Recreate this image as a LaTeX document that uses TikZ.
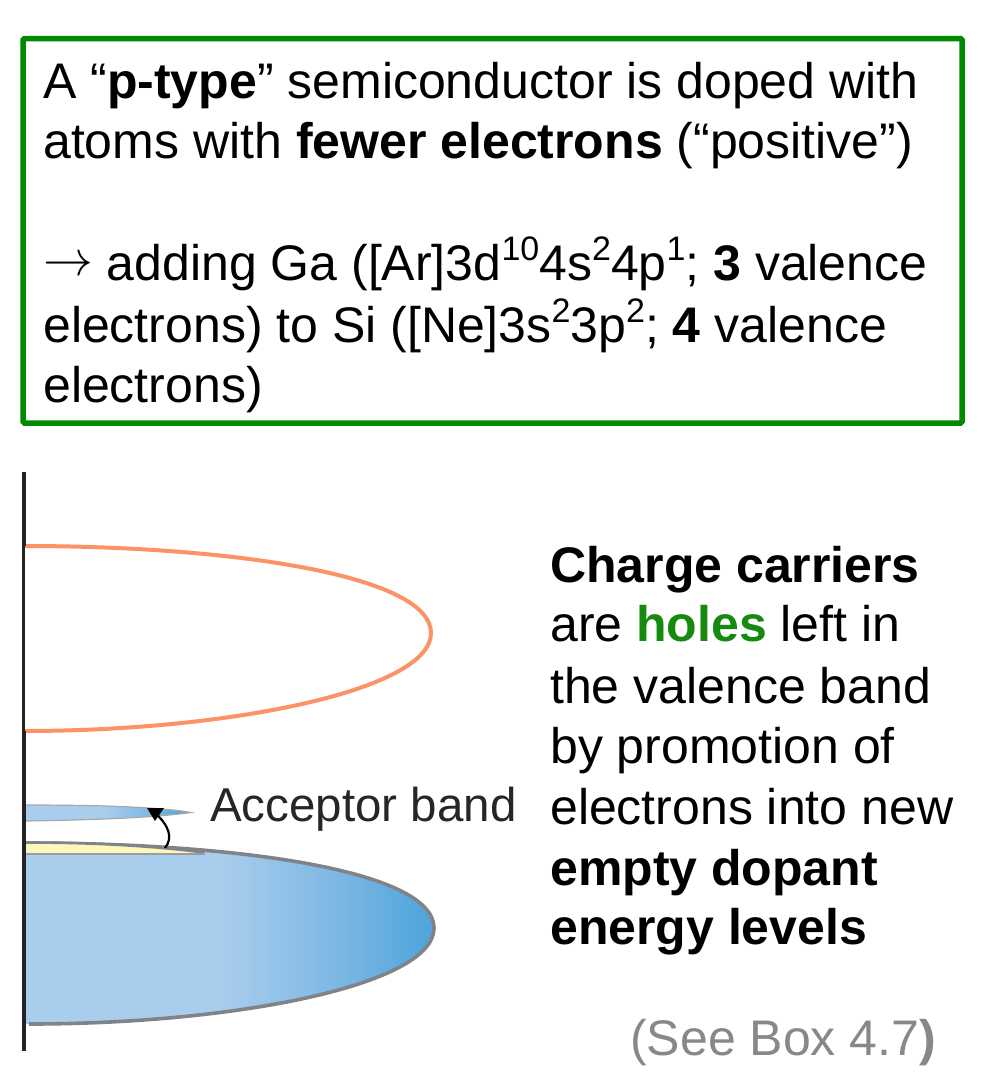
\documentclass[tikz,border=0pt]{standalone}
\usepackage{graphicx}
\usepackage{fontspec}
\setmainfont{Liberation Sans}
\definecolor{boxgreen}{HTML}{008A00}
\definecolor{holegreen}{HTML}{168A10}
\definecolor{orangeline}{HTML}{FB9268}
\definecolor{bandgray}{HTML}{808488}
\definecolor{axisdark}{HTML}{222222}
\definecolor{seegray}{HTML}{888888}
\definecolor{sliver}{HTML}{FFF6BC}
\definecolor{bandlight}{HTML}{A9CDEC}
\definecolor{bandmid}{HTML}{7DB8E4}
\definecolor{banddeep}{HTML}{4CA4DB}
\pgfdeclarehorizontalshading{bandshade}{100bp}{color(0bp)=(bandlight);color(25bp)=(bandlight);color(49bp)=(bandlight);color(63bp)=(bandmid);color(75bp)=(banddeep);color(100bp)=(banddeep)}
\newcommand{\sups}[1]{\raisebox{0.4em}{\fontsize{34}{34}\selectfont #1}}
\tikzset{
  x=1pt,y=-1pt,
  line/.style={anchor=base west,inner sep=0pt,font=\fontsize{50}{50}\selectfont},
  acceptor/.style={anchor=base west,inner sep=0pt,font=\fontsize{47.5}{47.5}\selectfont,text=black!85},
  seeref/.style={line,text=seegray},
  axisline/.style={draw=axisdark,line width=4pt},
  bandedge/.style={draw=bandgray,line width=3.6pt},
}
\begin{document}
\begin{tikzpicture}
\useasboundingbox (0,0) rectangle (1000,1084);
\fill[white] (0,0) rectangle (1000,1084);
\draw[boxgreen,line width=5.5pt,rounded corners=1.5pt] (23,38.5) rectangle (962,423);
\node[line] (t1) at (43,98) {A “\textbf{p-type}” semiconductor is doped with};
\node[line] (t2) at (43,158) {atoms with \textbf{fewer electrons} (“positive”)};
\node[line] (t3) at (43,280) {\raisebox{4.5pt}{\scalebox{2}{$\rightarrow$}} adding Ga ([Ar]3d\sups{10}4s\sups{2}4p\sups{1}; \textbf{3} valence};
\node[line] (t4) at (43,342) {electrons) to Si ([Ne]3s\sups{2}3p\sups{2}; \textbf{4} valence};
\node[line] (t5) at (43,402) {electrons)};
\node[line] (r1) at (550,582) {\textbf{Charge carriers}};
\node[line] (r2) at (550,641) {are \textbf{\textcolor{holegreen}{holes}} left in};
\node[line] (r3) at (550,703) {the valence band};
\node[line] (r4) at (550,763) {by promotion of};
\node[line] (r5) at (550,824) {electrons into new};
\node[line] (r6) at (550,885) {\textbf{empty dopant}};
\node[line] (r7) at (550,944) {\textbf{energy levels}};
\node[seeref] (see) at (630,1055) {(See Box 4.7\textbf{)}};
\node[acceptor] (acc) at (210,821) {Acceptor band};
% conduction band outline
\draw[orangeline,line width=4pt] (24,546) .. controls (230,546) and (431,575) .. (431,633) .. controls (431,690) and (230,731) .. (24,731);
% valence band
\shade[shading=bandshade] (26,843) .. controls (235,843) and (434,870) .. (434,928) .. controls (434,985) and (235,1024) .. (26,1024) -- cycle;
\draw[bandedge] (26,843) .. controls (235,843) and (434,870) .. (434,928) .. controls (434,985) and (235,1024) .. (29,1024);
% yellow sliver
\fill[sliver] (26,843) .. controls (90,843) and (150,846) .. (204,853) -- (26,853) -- cycle;
\draw[bandgray,line width=2.6pt] (26,842.5) .. controls (90,842.5) and (150,845.5) .. (204,852.5);
\draw[bandgray!80,line width=2pt] (26,853.5) -- (205,853.5);
% acceptor band
\shade[shading=bandshade] (24,805) .. controls (100,805) and (160,807) .. (191,812.5) .. controls (160,817) and (100,820) .. (24,821) -- cycle;
\draw[bandgray!70,line width=1.2pt] (24,805) .. controls (100,805) and (160,807) .. (191,812.5) .. controls (160,817) and (100,820) .. (24,821);
% transition arrow
\coordinate (from) at (165,848);
\coordinate (into) at (153,811);
\fill[black] (147,808) -- (164,808) -- (155,821) -- cycle;
\draw[black,line width=2.2pt] (from) .. controls (173,838) and (170,826) .. (into);
% energy axis
\draw[axisline] (24,472) -- (24,546);
\draw[axisdark,line width=2.6pt] (23.5,546) -- (23.5,731);
\draw[axisline] (24,731) -- (24,1051);
\end{tikzpicture}
\end{document}
